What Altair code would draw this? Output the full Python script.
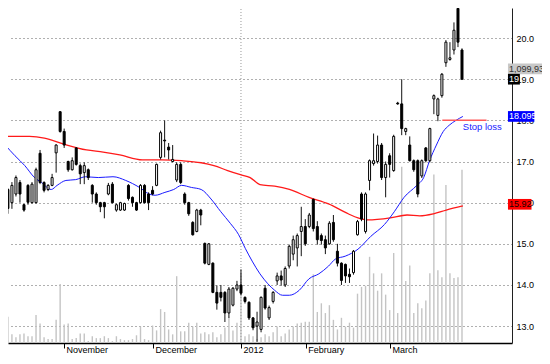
import altair as alt
import pandas as pd

# ---------------- data ----------------
opens = [16.32,16.0,16.21,16.49,15.95,16.42,16.0,16.0,17.2,16.49,
         16.32,16.42,17.21,18.21,17.73,17.0,16.8,17.33,16.9,16.73,
         16.8,16.42,16.21,16.0,16.0,16.21,16.45,15.82,15.82,15.82,
         16.42,16.13,16.0,16.0,16.42,16.21,16.3,16.42,17.1,17.52,
         17.35,17.0,16.55,16.93,16.21,16.0,15.52,15.3,15.82,15.01,
         14.5,14.53,13.82,13.82,13.82,13.32,13.51,13.9,14.0,13.7,
         13.58,13.2,13.0,12.92,13.92,13.2,13.6,14.1,14.22,14.0,
         14.46,14.75,14.9,15.3,15.42,15.42,16.08,15.42,15.2,15.1,
         15.0,15.52,14.82,14.53,14.5,14.26,14.3,15.22,16.21,15.3,
         16.54,16.95,17.0,17.4,16.61,17.14,16.78,18.42,18.4,17.73,
         17.4,17.02,17.02,16.65,17.33,17.02,18.52,18.12,18.6,19.4,
         19.48,19.71,20.72,19.71]
closes = [15.86,16.42,16.61,16.21,15.82,16.01,16.45,16.8,16.49,16.3,
          16.42,16.61,17.40,17.73,17.40,16.8,17.02,16.93,16.7,16.9,
          16.61,16.21,16.0,15.9,15.9,16.42,16.0,15.95,16.0,15.98,
          16.1,16.0,15.82,16.42,16.0,16.0,16.21,16.93,17.7,17.5,
          17.28,17.05,16.93,16.49,16.0,15.73,15.22,15.82,15.7,14.53,
          15.0,13.82,13.56,13.7,13.32,13.9,13.92,14.0,13.8,13.6,
          13.2,12.96,13.1,13.7,13.44,13.45,13.82,14.22,14.12,14.4,
          14.94,15.1,15.2,15.42,15.0,15.7,15.37,15.1,15.08,14.9,
          15.5,15.1,14.53,14.11,14.22,14.2,14.82,15.54,15.6,16.21,
          17.02,17.02,17.4,16.61,16.93,16.93,17.61,18.4,17.8,17.8,
          17.02,16.8,16.21,17.02,17.02,17.8,18.6,18.52,19.12,19.9,
          19.52,20.19,19.9,19.0]
highs = [16.35,16.5,16.66,16.55,15.97,16.45,16.5,16.85,17.28,16.52,
         16.45,16.7,17.42,18.22,17.8,17.02,17.1,17.35,16.95,16.98,
         16.83,16.45,16.25,16.02,16.02,16.48,16.5,15.98,16.02,16.0,
         16.45,16.15,16.02,16.45,16.45,16.25,16.4,16.95,17.75,18.0,
         17.45,17.4,16.98,16.98,16.25,16.02,15.55,15.85,15.85,15.03,
         15.02,14.55,13.99,14.0,13.85,13.95,13.95,14.1,14.38,13.72,
         13.6,13.22,13.35,13.72,14.0,13.5,13.85,14.3,14.35,14.45,
         14.98,15.2,15.25,15.9,15.6,15.75,16.1,15.55,15.25,15.2,
         15.55,15.7,15.0,14.55,14.52,14.4,14.85,15.58,16.25,16.25,
         17.05,17.68,17.63,17.45,17.0,17.2,17.65,18.45,19.0,17.82,
         17.61,17.05,17.05,17.05,17.35,17.82,18.63,18.55,19.15,19.95,
         19.9,20.38,20.74,19.75]
lows = [15.73,15.85,16.15,16.0,15.78,15.95,15.98,15.98,16.45,16.25,
        16.28,16.4,16.73,17.7,17.33,16.75,16.78,16.9,16.45,16.45,
        16.55,16.0,15.95,15.77,15.62,16.18,15.98,15.78,15.8,15.8,
        16.05,15.9,15.8,15.98,15.98,15.82,16.18,16.4,17.05,17.1,
        17.05,16.98,16.5,16.45,15.95,15.68,15.2,15.28,15.45,14.5,
        14.48,13.8,13.4,13.6,13.1,13.2,13.48,13.85,13.75,13.55,
        13.15,12.9,12.62,12.85,13.4,13.15,13.55,14.0,13.98,13.95,
        14.4,14.6,14.45,14.7,14.95,15.38,15.3,14.98,14.98,14.75,
        14.98,15.05,14.45,14.0,14.05,14.05,14.25,15.2,15.55,15.25,
        16.3,16.9,16.95,16.55,16.13,16.61,16.75,18.38,17.64,17.64,
        17.0,16.75,16.13,16.6,16.98,16.98,18.15,17.98,18.55,19.3,
        19.45,19.6,19.78,18.98]
volumes = [166,55,37,55,61,43,43,178,123,37,
           25,25,147,375,117,123,25,31,61,61,
           12,43,31,31,43,31,12,43,25,18,
           18,25,49,104,25,18,111,80,215,197,
           86,55,424,74,74,129,104,129,61,68,
           55,68,37,55,98,166,80,129,442,43,
           55,43,25,37,55,43,68,104,43,61,
           86,104,123,129,135,135,436,197,252,190,
           240,147,86,160,104,129,98,313,356,363,
           547,442,332,442,307,209,571,190,1118,393,
           492,190,252,221,270,442,1069,461,418,1002,
           442,412,418,1100]  # thousands

blue_day = [-0.68,1.76,4.2,6.63,8.34,10.78,12.24,14.44,16.88,19.32,22.49,26.15,29.32,
            32.73,35.17,36.63,39.07,41.27,43.22,45.66,48.1,50.54,52.98,55.41,57.37,
            59.07,60.78,62.73,64.68,66.39,68.34,70.05,72.49,74.93,77.37,79.8,81.51,
            83.95,87.12,90.29,93.71,96.15,98.59,101.76,103.46,104.93,106.63,108.34,
            109.8,111.51,113.22]
blue_val = [17.40,17.14,16.90,16.61,16.49,16.32,16.42,16.54,16.56,16.63,16.61,16.63,16.54,
            16.37,16.21,16.18,16.25,16.32,16.42,16.37,16.32,16.09,15.78,15.49,15.23,
            14.89,14.58,14.27,14.03,13.87,13.75,13.75,13.87,14.15,14.27,14.46,14.63,
            14.70,14.87,15.18,15.47,15.78,16.13,16.42,16.61,17.02,17.40,17.73,
            17.88,18.0,18.095]
red_day = [-0.68,5.41,9.07,13.95,19.56,23.71,27.85,33.46,38.34,43.22,48.1,51.27,54.68,
           57.85,60.29,62.73,66.39,70.05,74.93,79.8,84.68,87.12,89.56,95.17,99.32,
           102.49,105.9,109.07,113.22]
red_val = [17.61,17.61,17.57,17.42,17.28,17.23,17.16,17.04,17.04,17.02,16.97,16.90,16.78,
           16.68,16.61,16.44,16.40,16.32,16.13,15.97,15.73,15.63,15.58,15.63,15.70,
           15.68,15.73,15.82,15.92]

month_labels = ["November", "December", "2012", "February", "March"]
month_pos = [13.95, 36.1, 58.0, 74.1, 95.1]
year_sep = [58.0]
price_ticks = [13, 14, 15, 16, 17, 18, 19, 20]

stop_days = [108.1, 119.1]
stop_price = 18.0
stop_text = "Stop loss"

box_labels = ["1,099,930", "19", "18.095", "15.92"]
box_price = [19.25, 19.0, 18.095, 15.96]
box_end = [133.5, 127.4, 131.0, 130.3]
box_fill = ["#c8c8c8", "#000000", "#0000ff", "#ff0000"]
box_text = ["#303030", "#ffffff", "#ffffff", "#200000"]

# ---------------- chart ----------------
FONT = "Liberation Sans, Arial, sans-serif"
X_DOMAIN = [1.268, 124.2]
Y_DOMAIN = [12.59, 20.73]
W, H = 504, 335

n = len(opens)
df = pd.DataFrame({"day": list(range(n)), "open": opens, "close": closes,
                   "high": highs, "low": lows, "volume": volumes})
df["dir"] = ["up" if c >= o else "down" for o, c in zip(opens, closes)]

label_expr = " : ".join(f"datum.value == {p} ? '{l}'" for p, l in zip(month_pos, month_labels)) + " : ''"

xscale = alt.Scale(domain=X_DOMAIN, nice=False, zero=False)
xaxis = alt.Axis(values=month_pos, labelExpr=label_expr, tickSize=5, tickColor="black",
                 labelAlign="left", labelBaseline="top", labelPadding=-3, labelOffset=2,
                 labelFont=FONT, labelFontSize=9, labelColor="black", domainColor="black",
                 domainWidth=1.5, grid=False, title=None, labelOverlap=False, labelFlush=False)
yscale = alt.Scale(domain=Y_DOMAIN, nice=False, zero=False)
yaxis = alt.Axis(orient="right", values=price_ticks, format=".1f", grid=True, gridDash=[1, 3],
                 gridColor="#606060", gridWidth=1, ticks=False, labelPadding=4, labelFont=FONT,
                 labelFontSize=9, labelColor="black", domainColor="#202020", domainWidth=1,
                 title=None)


def X(field):
    return alt.X(f"{field}:Q", scale=xscale, axis=xaxis)


def Y(field):
    return alt.Y(f"{field}:Q", scale=yscale, axis=yaxis)


vol = alt.Chart(df).mark_bar(width=1.4, color="#c4c4c4", clip=True).encode(
    x=X("day"),
    y=alt.Y("volume:Q", scale=alt.Scale(domain=[0, 2126], nice=False), axis=None),
)

sep = alt.Chart(pd.DataFrame({"day": year_sep, "lo": [Y_DOMAIN[0]], "hi": [Y_DOMAIN[1]]})).mark_rule(
    color="#9a9a9a", strokeDash=[1, 2], strokeWidth=1).encode(x=X("day"), y=Y("lo"), y2="hi")

blue = alt.Chart(pd.DataFrame({"day": blue_day, "price": blue_val})).mark_line(
    color="#1a1aff", strokeWidth=1, clip=True, interpolate="monotone").encode(x=X("day"), y=Y("price"))
red = alt.Chart(pd.DataFrame({"day": red_day, "price": red_val})).mark_line(
    color="#ff1a1a", strokeWidth=1.3, clip=True, interpolate="monotone").encode(x=X("day"), y=Y("price"))

wick = alt.Chart(df).mark_rule(color="#111111", strokeWidth=1, clip=True).encode(
    x=X("day"), y=Y("low"), y2="high")
body = alt.Chart(df).mark_bar(width=2, stroke="#000000", strokeWidth=1, clip=True).encode(
    x=X("day"), y=Y("open"), y2="close",
    fill=alt.Fill("dir:N", scale=alt.Scale(domain=["up", "down"], range=["#ffffff", "#000000"]), legend=None),
)

stop = alt.Chart(pd.DataFrame({"day": [stop_days[0]], "day2": [stop_days[1]], "price": [stop_price]})).mark_rule(
    color="#ff5a5a", strokeWidth=1.5).encode(x=X("day"), x2="day2", y=Y("price"))
stop_lbl = alt.Chart(pd.DataFrame({"day": [113.2], "price": [17.85], "t": [stop_text]})).mark_text(
    align="left", baseline="middle", font=FONT, fontSize=9.5, color="#1a1aff").encode(
    x=X("day"), y=Y("price"), text="t:N")

bdf = pd.DataFrame({"label": box_labels, "price": box_price, "x0": [124.44] * 4, "x1": box_end,
                    "fill": box_fill, "tc": box_text, "tx": [124.7] * 4})
bdf["lo"] = bdf["price"] - 0.13
bdf["hi"] = bdf["price"] + 0.13
boxes = alt.Chart(bdf).mark_rect().encode(
    x=X("x0"), x2="x1", y=Y("lo"), y2="hi", color=alt.Color("fill:N", scale=None))
box_txt = alt.Chart(bdf).mark_text(align="left", baseline="middle", font=FONT, fontSize=9).encode(
    x=X("tx"), y=Y("price"), text="label:N", color=alt.Color("tc:N", scale=None))

price = alt.layer(sep, red, blue, wick, body, stop, stop_lbl, boxes, box_txt)

chart = alt.layer(vol, price).resolve_scale(y="independent").properties(
    width=W, height=H,
    padding={"left": 0, "top": 0, "right": 30, "bottom": 13},
    autosize=alt.AutoSizeParams(type="none"),
    background="white",
).configure_view(stroke=None)

chart.save("out.html", embed_options={"renderer": "svg", "actions": False})
